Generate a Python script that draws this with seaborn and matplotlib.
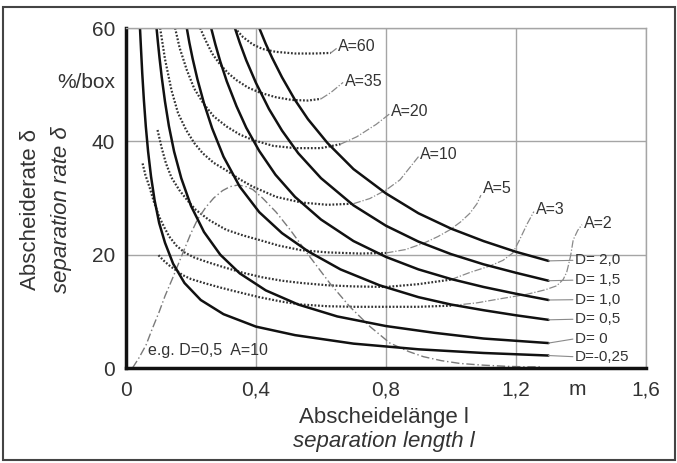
import matplotlib
matplotlib.use("Agg")
import matplotlib.pyplot as plt
import seaborn as sns
from matplotlib.patches import Rectangle

# ---------------- data ----------------
x_ticks = [0, 0.4, 0.8, 1.2, 1.6]
x_tick_labels = ["0", "0,4", "0,8", "1,2", "1,6"]
y_ticks = [0, 20, 40, 60]
y_tick_labels = ["0", "20", "40", "60"]

# solid curves, parameter D
d20_x = [0.41, 0.43, 0.45, 0.48, 0.52, 0.56, 0.62, 0.7, 0.8, 0.9, 1.0, 1.1, 1.2, 1.3]
d20_y = [60.0, 57.2, 54.7, 51.3, 47.3, 43.9, 39.7, 35.1, 30.8, 27.3, 24.6, 22.4, 20.5, 18.9]
d15_x = [0.335, 0.35, 0.37, 0.4, 0.44, 0.48, 0.53, 0.6, 0.7, 0.8, 0.9, 1.0, 1.1, 1.2, 1.3]
d15_y = [60.0, 57.4, 54.3, 50.3, 45.7, 41.9, 37.9, 33.5, 28.7, 25.1, 22.3, 20.1, 18.3, 16.8, 15.4]
d10_x = [0.262, 0.275, 0.29, 0.31, 0.34, 0.37, 0.41, 0.46, 0.52, 0.6, 0.7, 0.8, 0.9, 1.0, 1.1, 1.2, 1.3]
d10_y = [60.0, 57.1, 54.1, 50.6, 46.2, 42.4, 38.3, 34.1, 30.2, 26.2, 22.4, 19.6, 17.4, 15.7, 14.3, 13.1, 12.0]
d05_x = [0.187, 0.195, 0.205, 0.22, 0.24, 0.265, 0.3, 0.35, 0.41, 0.48, 0.56, 0.66, 0.78, 0.9, 1.0, 1.1, 1.2, 1.3]
d05_y = [60.0, 57.4, 54.6, 50.9, 46.7, 42.3, 37.3, 32.0, 27.5, 23.8, 20.6, 17.4, 14.6, 12.5, 11.2, 10.2, 9.3, 8.5]
d00_x = [0.094, 0.098, 0.103, 0.11, 0.12, 0.132, 0.148, 0.17, 0.2, 0.24, 0.29, 0.35, 0.43, 0.53, 0.65, 0.8, 0.95, 1.1, 1.3]
d00_y = [60.0, 57.6, 54.8, 51.3, 47.0, 42.7, 38.2, 33.5, 28.6, 24.0, 20.0, 16.7, 13.7, 11.2, 9.1, 7.4, 6.2, 5.2, 4.4]
dm25_x = [0.043, 0.046, 0.05, 0.055, 0.061, 0.068, 0.077, 0.088, 0.102, 0.12, 0.145, 0.18, 0.23, 0.3, 0.4, 0.52, 0.7, 0.9, 1.1, 1.3]
dm25_y = [60.0, 56.5, 52.0, 47.3, 42.6, 38.2, 33.8, 29.6, 25.6, 22.1, 18.4, 15.0, 12.0, 9.5, 7.3, 5.8, 4.3, 3.3, 2.65, 2.2]
d_labels = ["D= 2,0", "D= 1,5", "D= 1,0", "D= 0,5", "D= 0", "D=-0,25"]
d_label_y = [19.0, 15.5, 12.05, 8.6, 5.1, 2.0]

# dotted curves, parameter A (dotted part + rising leader to label)
a60_x = [0.335, 0.36, 0.39, 0.42, 0.46, 0.52, 0.58, 0.63]
a60_y = [60.0, 58.4, 57.1, 56.3, 55.8, 55.5, 55.5, 55.6]
a60_lx = [0.63, 0.648]
a60_ly = [55.6, 56.4]
a35_x = [0.228, 0.245, 0.265, 0.289, 0.315, 0.34, 0.375, 0.412, 0.46, 0.51, 0.56, 0.6]
a35_y = [60.0, 57.8, 55.5, 53.6, 52.0, 50.8, 49.5, 48.6, 47.8, 47.3, 47.2, 47.5]
a35_lx = [0.6, 0.63, 0.668]
a35_ly = [47.5, 48.6, 50.4]
a20_x = [0.151, 0.165, 0.187, 0.21, 0.238, 0.27, 0.31, 0.35, 0.392, 0.453, 0.52, 0.6, 0.66]
a20_y = [60.0, 56.5, 52.6, 49.3, 46.7, 44.4, 42.6, 41.2, 40.2, 39.2, 38.8, 38.8, 39.5]
a20_lx = [0.66, 0.71, 0.77, 0.81]
a20_ly = [39.5, 40.8, 43.0, 44.8]
a10_x = [0.105, 0.12, 0.14, 0.16, 0.185, 0.21, 0.236, 0.27, 0.308, 0.35, 0.39, 0.462, 0.54, 0.62, 0.7]
a10_y = [60.0, 54.5, 49.0, 45.0, 42.0, 39.7, 37.9, 36.2, 34.9, 33.3, 32.0, 30.2, 29.2, 28.8, 29.0]
a10_lx = [0.7, 0.75, 0.8, 0.843, 0.875, 0.9]
a10_ly = [29.0, 29.9, 31.4, 33.2, 35.5, 37.3]
a5_x = [0.097, 0.11, 0.123, 0.14, 0.164, 0.19, 0.215, 0.256, 0.308, 0.36, 0.41, 0.47, 0.538, 0.62, 0.72, 0.8]
a5_y = [42.0, 38.8, 36.1, 33.6, 31.4, 29.5, 27.9, 26.1, 24.4, 23.4, 22.6, 21.6, 20.8, 20.4, 20.2, 20.3]
a5_lx = [0.8, 0.86, 0.915, 0.96, 0.997, 1.03, 1.058, 1.08, 1.092]
a5_ly = [20.3, 20.9, 22.0, 23.2, 24.4, 25.8, 27.3, 29.0, 30.5]
a3_x = [0.051, 0.06, 0.072, 0.086, 0.102, 0.118, 0.133, 0.155, 0.18, 0.21, 0.25, 0.3, 0.36, 0.42, 0.48, 0.54, 0.62, 0.7, 0.8, 0.9, 1.0]
a3_y = [36.1, 34.0, 32.0, 29.3, 26.7, 24.8, 23.2, 21.6, 20.4, 19.5, 18.7, 17.8, 16.8, 16.0, 15.4, 15.0, 14.6, 14.4, 14.3, 14.8, 15.6]
a3_lx = [1.0, 1.06, 1.12, 1.16, 1.19, 1.21, 1.235, 1.255]
a3_ly = [15.6, 16.9, 18.0, 19.0, 20.3, 22.5, 25.5, 27.6]
a2_x = [0.1, 0.115, 0.133, 0.155, 0.174, 0.2, 0.246, 0.29, 0.338, 0.41, 0.48, 0.54, 0.62, 0.7, 0.8, 0.9, 1.0]
a2_y = [19.9, 19.0, 18.1, 17.2, 16.4, 15.7, 14.9, 14.2, 13.5, 12.5, 11.7, 11.2, 10.9, 10.8, 10.8, 10.8, 11.0]
a2_lx = [1.0, 1.08, 1.15, 1.233, 1.29, 1.325, 1.345, 1.356, 1.362, 1.368, 1.376, 1.39, 1.403]
a2_ly = [11.0, 11.5, 12.2, 13.0, 13.8, 14.5, 15.6, 16.9, 18.3, 19.8, 22.6, 24.3, 25.3]
a_labels = ["A=60", "A=35", "A=20", "A=10", "A=5", "A=3", "A=2"]
a_label_x = [0.652, 0.675, 0.815, 0.905, 1.097, 1.26, 1.41]
a_label_y = [56.7, 50.6, 45.2, 37.7, 31.7, 28.0, 25.5]

# example curve D=0,5 A=10
eg_x = [0.02, 0.04, 0.062, 0.08, 0.102, 0.12, 0.143, 0.16, 0.18, 0.2, 0.22, 0.246, 0.27, 0.297, 0.32, 0.345,
        0.37, 0.39, 0.42, 0.462, 0.505, 0.566, 0.628, 0.689, 0.751, 0.812, 0.87, 0.915, 0.97, 1.028, 1.1, 1.17, 1.233, 1.28]
eg_y = [0.0, 1.8, 4.1, 6.8, 9.9, 12.7, 15.8, 18.2, 21.0, 23.8, 26.2, 28.4, 30.0, 31.3, 32.0, 32.3,
        32.0, 31.5, 30.0, 27.5, 24.4, 19.6, 14.9, 10.8, 7.3, 4.4, 2.9, 2.0, 1.3, 0.8, 0.5, 0.3, 0.2, 0.2]
eg_label = "e.g. D=0,5  A=10"

# ---------------- drawing ----------------
sns.set_theme(style="white")
plt.rcParams["font.family"] = ["Liberation Sans", "DejaVu Sans"]

W, H = 677, 463
fig = plt.figure(figsize=(W / 100, H / 100), dpi=100)
ax = fig.add_axes([126 / W, 1 - 368 / H, 520 / W, 340 / H])


def draw(x, y, **kw):
    sns.lineplot(x=x, y=y, ax=ax, sort=False, estimator=None, legend=False, **kw)


solid_kw = dict(color="#111111", linewidth=1.8)
dot_kw = dict(color="#333333", linewidth=1.6, linestyle=(0, (0.8, 0.8)))
lead_kw = dict(color="#8a8a8a", linewidth=0.9, linestyle=(0, (6, 1.5, 1, 1.5)))

a_series = [(a60_x, a60_y, a60_lx, a60_ly), (a35_x, a35_y, a35_lx, a35_ly),
            (a20_x, a20_y, a20_lx, a20_ly), (a10_x, a10_y, a10_lx, a10_ly),
            (a5_x, a5_y, a5_lx, a5_ly), (a3_x, a3_y, a3_lx, a3_ly),
            (a2_x, a2_y, a2_lx, a2_ly)]
for xs, ys, lx, ly in a_series:
    draw(xs, ys, **dot_kw)
    draw(lx, ly, **lead_kw)

draw(eg_x, eg_y, color="#7a7a7a", linewidth=1.0, linestyle=(0, (6, 2, 1, 2)))

d_series = [(d20_x, d20_y), (d15_x, d15_y), (d10_x, d10_y),
            (d05_x, d05_y), (d00_x, d00_y), (dm25_x, dm25_y)]
for (xs, ys), lab, ly in zip(d_series, d_labels, d_label_y):
    draw(xs, ys, **solid_kw)
    draw([xs[-1], 1.375], [ys[-1], ly], color="#8a8a8a", linewidth=0.8)
    ax.text(1.382, ly, lab, fontsize=11, color="#333333", ha="left", va="center")

for lab, lx, ly in zip(a_labels, a_label_x, a_label_y):
    ax.text(lx, ly, lab, fontsize=11.5, color="#333333", ha="left", va="center")

ax.text(0.068, 3.0, eg_label, fontsize=11.5, color="#333333", ha="left", va="center")

ax.set_xlim(0, 1.6)
ax.set_ylim(0, 60)
ax.set_xticks(x_ticks)
ax.set_xticklabels(x_tick_labels)
ax.set_yticks(y_ticks)
ax.set_yticklabels(y_tick_labels)
ax.tick_params(axis="both", length=0, labelsize=15, labelcolor="#333333")
ax.tick_params(axis="x", pad=9)
ax.tick_params(axis="y", pad=8)
ax.set_xlabel("")
ax.set_ylabel("")
ax.grid(True, color="#a5a5a5", linewidth=1.0)
ax.set_axisbelow(True)
for side in ["left", "bottom"]:
    ax.spines[side].set_color("#111111")
    ax.spines[side].set_linewidth(2.5)
for side in ["top", "right"]:
    ax.spines[side].set_color("#a5a5a5")
    ax.spines[side].set_linewidth(1.0)

ax.text(1.39, -0.035, "m", transform=ax.get_xaxis_transform(), fontsize=15,
        color="#333333", ha="center", va="top")
fig.text(115 / W, 1 - 83 / H, "%/box", fontsize=15, color="#333333", ha="right", va="center")

fig.text(384 / W, 1 - 417 / H, "Abscheidelänge l", fontsize=16, color="#333333", ha="center", va="center")
fig.text(384 / W, 1 - 441 / H, "separation length l", fontsize=16, color="#333333",
         ha="center", va="center", style="italic")
fig.text(31 / W, 1 - 209 / H, "Abscheiderate δ", fontsize=16, color="#333333",
         ha="center", va="center", rotation=90)
fig.text(61 / W, 1 - 210 / H, "separation rate δ", fontsize=16, color="#333333",
         ha="center", va="center", rotation=90, style="italic")

fig.patches.append(Rectangle((3 / W, 1 - 460 / H), 672 / W, 453 / H, transform=fig.transFigure,
                             fill=False, edgecolor="#444444", linewidth=1.5))

fig.savefig("out.png", dpi=100)
